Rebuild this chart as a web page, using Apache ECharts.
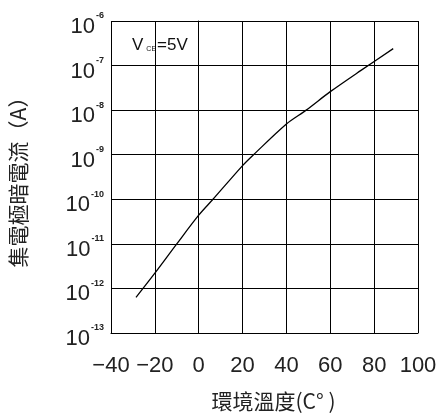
<!DOCTYPE html>
<html>
<head>
<meta charset="utf-8">
<script src="https://cdn.jsdelivr.net/npm/echarts@6/dist/echarts.min.js"></script>
<style>html,body{margin:0;padding:0;background:#fff;}#c{width:446px;height:417px;}</style>
</head>
<body>
<div id="c"></div>
<script>
// Data
var temperatures = [-28.6, -20, -10, 0, 6.5, 20, 25, 40, 49, 60, 74, 88.7];
var currents = [6.3e-13, 2.2e-12, 1.0e-11, 4.4e-11, 1.0e-10, 5.7e-10, 1.0e-9, 4.9e-9, 1.0e-8, 2.6e-8, 7.8e-8, 2.4e-7];
var xTicks = [-40, -20, 0, 20, 40, 60, 80, 100];
var yTickExponents = [-13, -12, -11, -10, -9, -8, -7, -6];
var xTitle = '環境溫度(C° )';
var yTitle = '集電極暗電流（A）';

var latin = '"Liberation Sans", Arial, sans-serif';
var cjk = '"Noto Sans CJK TC", "Noto Sans CJK SC", sans-serif';

var seriesData = temperatures.map(function (t, i) { return [t, currents[i]]; });

var chart = echarts.init(document.getElementById('c'), null, {renderer: 'canvas'});
chart.setOption({
  backgroundColor: '#ffffff',
  animation: false,
  grid: {left: 108, top: 21, right: 28, bottom: 82, containLabel: false},
  xAxis: {
    type: 'value',
    min: xTicks[0],
    max: xTicks[xTicks.length - 1],
    interval: xTicks[1] - xTicks[0],
    name: xTitle,
    nameLocation: 'middle',
    nameGap: 58,
    nameTextStyle: {fontFamily: cjk, fontSize: 21, color: '#222', padding: [0, 0, 0, 18]},
    axisLine: {show: true, lineStyle: {color: '#000', width: 1}},
    axisTick: {show: false},
    splitLine: {show: true, lineStyle: {color: '#000', width: 1}},
    axisLabel: {
      margin: 22,
      fontFamily: latin,
      fontSize: 22,
      color: '#222',
      formatter: function (v) { return v < 0 ? '−' + Math.abs(v) : String(v); }
    }
  },
  yAxis: {
    type: 'log',
    logBase: 10,
    min: Math.pow(10, yTickExponents[0]),
    max: Math.pow(10, yTickExponents[yTickExponents.length - 1]),
    name: yTitle,
    nameLocation: 'middle',
    nameGap: 82,
    nameRotate: 90,
    nameTextStyle: {fontFamily: cjk, fontSize: 21, color: '#222'},
    axisLine: {show: true, lineStyle: {color: '#000', width: 1}},
    axisTick: {show: false},
    splitLine: {show: true, lineStyle: {color: '#000', width: 1}},
    axisLabel: {
      margin: 7,
      formatter: function (v) {
        var e = Math.round(Math.log10(v));
        return '{b|10}{e|' + e + '}';
      },
      rich: {
        b: {fontFamily: latin, fontSize: 22, color: '#222', padding: [12, 0, 0, 0]},
        e: {fontFamily: latin, fontSize: 9, fontWeight: 'bold', color: '#222', padding: [0, 0, 10, 1]}
      }
    }
  },
  graphic: [{
    type: 'text',
    left: 132,
    top: 37,
    style: {
      text: '{v|V}{s|CE}{v|=5V}',
      rich: {
        v: {fontFamily: latin, fontSize: 17, fill: '#111'},
        s: {fontFamily: latin, fontSize: 7, fill: '#111', padding: [8, 1, 0, 3]}
      }
    }
  }],
  series: [{
    type: 'line',
    data: seriesData,
    smooth: 0.3,
    showSymbol: false,
    symbol: 'none',
    lineStyle: {color: '#000', width: 1.3}
  }]
});
</script>
</body>
</html>
